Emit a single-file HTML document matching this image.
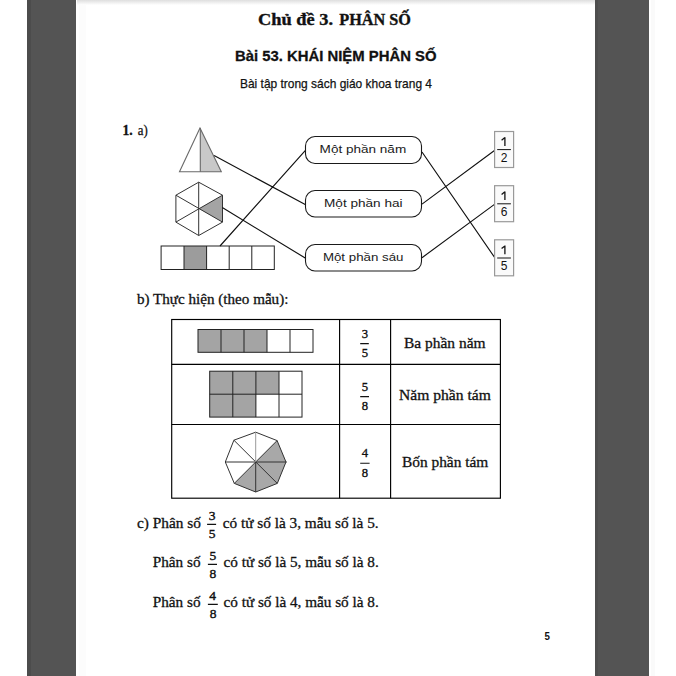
<!DOCTYPE html>
<html><head><meta charset="utf-8">
<style>
html,body{margin:0;padding:0;background:#fff;width:676px;height:676px;overflow:hidden}
svg{display:block}
.se{font-family:"Liberation Serif",serif}
.sa{font-family:"Liberation Sans",sans-serif}
.bd{stroke:#111;stroke-width:0.3}
</style></head><body>
<svg width="676" height="676" viewBox="0 0 676 676">
<defs>
<linearGradient id="sh" x1="0" y1="0" x2="0" y2="1">
<stop offset="0" stop-color="#dedede"/><stop offset="1" stop-color="#ffffff"/>
</linearGradient>
</defs>
<rect x="0" y="0" width="676" height="676" fill="#fff"/>
<rect x="27" y="0" width="49" height="676" fill="#545454"/>
<rect x="595" y="0" width="54" height="676" fill="#545454"/>
<rect x="77" y="0" width="518" height="5" fill="url(#sh)"/>
<rect x="27" y="0" width="4" height="676" fill="#4c4c4c"/>
<rect x="595" y="0" width="3" height="676" fill="#4e4e4e"/>
<rect x="651" y="0" width="4" height="676" fill="#fafafa"/>
<rect x="79" y="5" width="7" height="671" fill="#fcfcfc"/>

<!-- headings -->
<g class="se" font-size="16.5" font-weight="bold" fill="#111" stroke="#111" stroke-width="0.35">
<text x="258" y="25.2" textLength="75" lengthAdjust="spacingAndGlyphs">Chủ đề 3.</text>
<text x="339.3" y="25.2" textLength="71.7" lengthAdjust="spacingAndGlyphs">PHÂN SỐ</text>
</g>
<text class="sa" x="235" y="61.3" font-size="15.5" font-weight="bold" fill="#111" stroke="#111" stroke-width="0.3" textLength="201.5" lengthAdjust="spacingAndGlyphs">Bài 53. KHÁI NIỆM PHÂN SỐ</text>
<text class="sa" x="240" y="87.7" font-size="13.3" fill="#111" stroke="#111" stroke-width="0.25" textLength="192" lengthAdjust="spacingAndGlyphs">Bài tập trong sách giáo khoa trang 4</text>

<!-- 1. a) -->
<g class="se" font-size="14" fill="#111">
<text x="122.5" y="134.6" font-weight="bold" stroke="#111" stroke-width="0.3" textLength="10.3" lengthAdjust="spacingAndGlyphs">1.</text>
<text x="137.7" y="134.8" stroke="#111" stroke-width="0.25" textLength="10" lengthAdjust="spacingAndGlyphs">a)</text>
</g>

<!-- triangle -->
<polygon points="200,128 221.3,171.8 200,171.8" fill="#c8c8c8"/>
<polygon points="200,128 179.5,171.8 221.3,171.8" fill="none" stroke="#6a6a6a" stroke-width="1.1"/>
<line x1="200.3" y1="128" x2="200.3" y2="171.8" stroke="#6a6a6a" stroke-width="1.1"/>

<!-- hexagon -->
<polygon points="198.7,208.7 222.5,195.2 222.5,222.1" fill="#a4a4a4"/>
<polygon points="198.7,182.2 222.5,195.2 222.5,222.1 198.7,235.5 175.9,222.1 175.9,195.2" fill="none" stroke="#333" stroke-width="1"/>
<path d="M198.7,182.2L198.7,235.5M175.9,195.2L222.5,222.1M175.9,222.1L222.5,195.2" stroke="#333" stroke-width="1"/>

<!-- strip -->
<rect x="184" y="246" width="22.6" height="23.5" fill="#9c9c9c"/>
<rect x="161.1" y="246" width="113.2" height="23.5" fill="none" stroke="#222" stroke-width="1"/>
<path d="M184,246v23.5M206.6,246v23.5M229.2,246v23.5M251.8,246v23.5" stroke="#222" stroke-width="1"/>

<!-- connecting lines left -->
<path d="M214.1,155.6L305.2,204.4M222.3,207.6L305.2,258M220,246L305.2,150.7" stroke="#111" stroke-width="1.15" fill="none"/>

<!-- boxes -->
<g fill="#fff" stroke="#1a1a1a" stroke-width="1.1">
<rect x="305.5" y="136.5" width="116" height="27" rx="9.5"/>
<rect x="305.5" y="190.5" width="116" height="26.5" rx="9.5"/>
<rect x="305.5" y="244.5" width="116" height="26.5" rx="9.5"/>
</g>
<g class="sa" font-size="10.8" fill="#1a1a1a">
<text x="319.6" y="152.5" textLength="86.6" lengthAdjust="spacingAndGlyphs">Một phần năm</text>
<text x="324" y="207" textLength="78.6" lengthAdjust="spacingAndGlyphs">Một phần hai</text>
<text x="322.9" y="261" textLength="80.6" lengthAdjust="spacingAndGlyphs">Một phần sáu</text>
</g>

<!-- connecting lines right -->
<path d="M422,152L494.8,257.7M422,204.1L494.8,150.2M422,257.7L494.8,204.1" stroke="#111" stroke-width="1.15" fill="none"/>

<!-- fraction boxes -->
<g fill="#fafafa" stroke="#999" stroke-width="1.2">
<rect x="494.6" y="131.5" width="19" height="36"/>
<rect x="494.6" y="185.7" width="19" height="36"/>
<rect x="494.6" y="239.8" width="19" height="36"/>
</g>
<g class="sa" font-size="12" text-anchor="middle" fill="#111">
<text x="504" y="162">2</text>
<text x="504" y="216.3">6</text>
<text x="504" y="270.3">5</text>
</g>
<g fill="none" stroke="#111" stroke-width="1.3">
<path d="M504.9,137.3V145.9M504.9,137.6L501.6,140.2"/>
<path d="M504.9,191.5V200.1M504.9,191.8L501.6,194.4"/>
<path d="M504.9,245.6V254.2M504.9,245.9L501.6,248.5"/>
</g>
<path d="M497.2,149.6H510.9M497.2,203.8H510.9M497.2,258H510.9" stroke="#111" stroke-width="1"/>

<!-- b) -->
<text class="se" x="137" y="303.5" font-size="14" fill="#111" stroke="#111" stroke-width="0.28" textLength="151.4" lengthAdjust="spacingAndGlyphs">b) Thực hiện (theo mẫu):</text>

<!-- table -->
<g stroke="#000" stroke-width="1.15" fill="none">
<rect x="171.7" y="319.5" width="328.7" height="178.7"/>
<path d="M171.7,364.3H500.4M171.7,424.5H500.4M339.6,319.5V498.2M390.6,319.5V498.2"/>
</g>

<!-- row1 strip -->
<rect x="198" y="329.5" width="69" height="22.8" fill="#a4a4a4"/>
<rect x="198" y="329.5" width="115" height="22.8" fill="none" stroke="#222" stroke-width="1"/>
<path d="M221,329.5v22.8M244,329.5v22.8M267,329.5v22.8M290,329.5v22.8" stroke="#222" stroke-width="1"/>

<!-- row2 grid -->
<path d="M209.7,371.2H279V394.2H256V417.1H209.7Z" fill="#a4a4a4"/>
<rect x="209.7" y="371.2" width="92.3" height="45.9" fill="none" stroke="#222" stroke-width="1"/>
<path d="M232.8,371.2v45.9M255.9,371.2v45.9M279,371.2v45.9M209.7,394.2H302" stroke="#222" stroke-width="1"/>

<!-- row3 octagon -->
<g transform="translate(255.7,462)">
<path d="M0,0L21.4,-21.4L30.3,0L21.6,21.4L0,30L-21.4,21.4Z" fill="#a8a8a8"/>
<polygon points="0,-29.8 21.4,-21.4 30.3,0 21.6,21.4 0,30 -21.4,21.4 -30.4,0 -21.8,-21.8" fill="none" stroke="#333" stroke-width="1"/>
<path d="M-30.4,0H31M-21.8,-21.8L21.6,21.4M-21.4,21.4L21.4,-21.4M0,0V30" stroke="#333" stroke-width="1"/>
<path d="M0,-29.8V0" stroke="#999" stroke-width="1"/>
</g>

<!-- fractions col2 -->
<g class="se" font-size="12.7" text-anchor="middle" fill="#111" stroke="#111" stroke-width="0.35">
<text x="365" y="338.4">3</text><text x="365" y="356.7">5</text>
<text x="365" y="391.4">5</text><text x="365" y="409.7">8</text>
<text x="365" y="457.4">4</text><text x="365" y="476.6">8</text>
</g>
<path d="M360.2,343.6H368.8M360.2,396.6H369M360.2,463.3H369.6" stroke="#111" stroke-width="1.1"/>

<!-- col3 text -->
<g class="se" font-size="14.2" fill="#111" stroke="#111" stroke-width="0.28">
<text x="404" y="347.5" textLength="81.5" lengthAdjust="spacingAndGlyphs">Ba phần năm</text>
<text x="399" y="399.9" textLength="91.8" lengthAdjust="spacingAndGlyphs">Năm phần tám</text>
<text x="402" y="466.8" textLength="86.3" lengthAdjust="spacingAndGlyphs">Bốn phần tám</text>
</g>

<!-- c) -->
<g class="se" font-size="13.8" fill="#111" stroke="#111" stroke-width="0.28">
<text x="137" y="527.7" textLength="63.9" lengthAdjust="spacingAndGlyphs">c) Phân số</text>
<text x="222.7" y="527.7" textLength="156" lengthAdjust="spacingAndGlyphs">có tử số là 3, mẫu số là 5.</text>
<text x="152.8" y="567.4" textLength="47.7" lengthAdjust="spacingAndGlyphs">Phân số</text>
<text x="223.5" y="567.4" textLength="155.2" lengthAdjust="spacingAndGlyphs">có tử số là 5, mẫu số là 8.</text>
<text x="152.8" y="607.3" textLength="47.7" lengthAdjust="spacingAndGlyphs">Phân số</text>
<text x="223.5" y="607.3" textLength="155.2" lengthAdjust="spacingAndGlyphs">có tử số là 4, mẫu số là 8.</text>
</g>
<g class="se" font-size="13.5" text-anchor="middle" fill="#111" stroke="#111" stroke-width="0.4">
<text x="212.2" y="519.7">3</text><text x="212.2" y="537.5">5</text>
<text x="212.9" y="559.5">5</text><text x="212.9" y="577.7">8</text>
<text x="212.6" y="599.7">4</text><text x="213" y="617.7">8</text>
</g>
<path d="M207.1,524.3H216.1M207.9,564.3H217M207.9,604.3H217.8" stroke="#111" stroke-width="1.15"/>

<!-- page number -->
<text class="sa" x="544.6" y="640" font-size="11" font-weight="bold" fill="#111" textLength="5.4" lengthAdjust="spacingAndGlyphs">5</text>
</svg>
</body></html>
